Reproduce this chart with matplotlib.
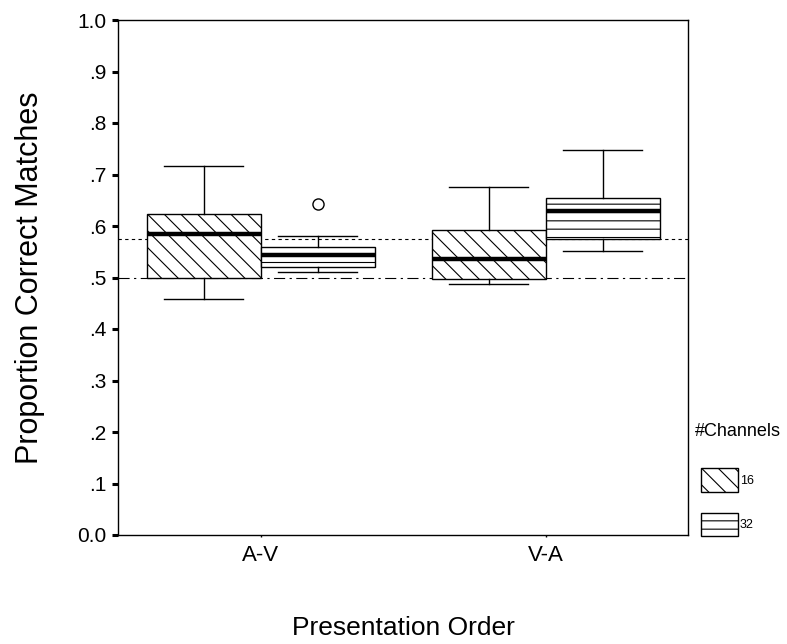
import matplotlib
matplotlib.use('Agg')
import matplotlib.pyplot as plt
from matplotlib.patches import Patch

plt.rcParams['font.family'] = ['Liberation Sans', 'DejaVu Sans']
plt.rcParams['hatch.linewidth'] = 0.8

# data (box plot summary per group)
orders = ['A-V', 'V-A']
channels = ['16', '32']
hatches = ['\\\\', '--']
q1 = {'16': [0.500, 0.498], '32': [0.521, 0.574]}
med = {'16': [0.585, 0.535], '32': [0.543, 0.630]}
q3 = {'16': [0.624, 0.593], '32': [0.560, 0.655]}
whislo = {'16': [0.459, 0.488], '32': [0.510, 0.552]}
whishi = {'16': [0.717, 0.676], '32': [0.581, 0.748]}
fliers = {'16': [[], []], '32': [[0.643], []]}
ref_dotted = 0.574
ref_dashdot = 0.5
yticks = [0.0, 0.1, 0.2, 0.3, 0.4, 0.5, 0.6, 0.7, 0.8, 0.9, 1.0]
ytick_labels = ['0.0', '.1', '.2', '.3', '.4', '.5', '.6', '.7', '.8', '.9', '1.0']

fig = plt.figure(figsize=(7.87, 6.44), dpi=100)
ax = fig.add_axes([118/787, 1-535/644, 570/787, 515/644])

offsets = [-0.2, 0.2]
for c, off, h in zip(channels, offsets, hatches):
    stats = []
    for i in range(len(orders)):
        stats.append(dict(med=med[c][i], q1=q1[c][i], q3=q3[c][i],
                          whislo=whislo[c][i], whishi=whishi[c][i],
                          fliers=fliers[c][i]))
    ax.bxp(stats, positions=[i + off for i in range(len(orders))],
           widths=0.4, capwidths=0.28, patch_artist=True,
           boxprops=dict(facecolor='white', edgecolor='black', linewidth=1, hatch=h),
           medianprops=dict(color='black', linewidth=3.2),
           whiskerprops=dict(color='black', linewidth=1),
           capprops=dict(color='black', linewidth=1),
           flierprops=dict(marker='o', markerfacecolor='none', markeredgecolor='black',
                           markersize=8, markeredgewidth=1))

# reference lines
ax.axhline(ref_dotted, color='black', linestyle=(0, (3, 3)), linewidth=0.8, zorder=0)
ax.axhline(ref_dashdot, color='black', linestyle=(0, (10, 4, 2, 4)), linewidth=0.8, zorder=0)

ax.set_xlim(-0.5, 1.5)
ax.set_ylim(0, 1.0)
ax.set_xticks(range(len(orders)))
ax.set_xticklabels(orders, fontsize=16)
ax.set_yticks(yticks)
ax.set_yticklabels(ytick_labels, fontsize=15)
ax.tick_params(axis='y', length=4.5, width=2.2, pad=4)
ax.tick_params(axis='x', length=1.5, width=1, pad=6)
for s in ax.spines.values():
    s.set_linewidth(1)

ax.set_ylabel('Proportion Correct Matches', fontsize=22, labelpad=23)
ax.set_xlabel('Presentation Order', fontsize=19, labelpad=36)

fig.text(695/787, 1-432/644, '#Channels', fontsize=13, va='center', ha='left')
handles = [Patch(facecolor='white', edgecolor='black', hatch=h, linewidth=1) for h in hatches]
fig.legend(handles, channels, loc='upper left',
           bbox_to_anchor=(695/787, 1-462/644), frameon=False,
           fontsize=9, handlelength=2.9, handleheight=2.5,
           handletextpad=0.2, labelspacing=1.7, borderpad=0)

fig.savefig('out.png', dpi=100)
